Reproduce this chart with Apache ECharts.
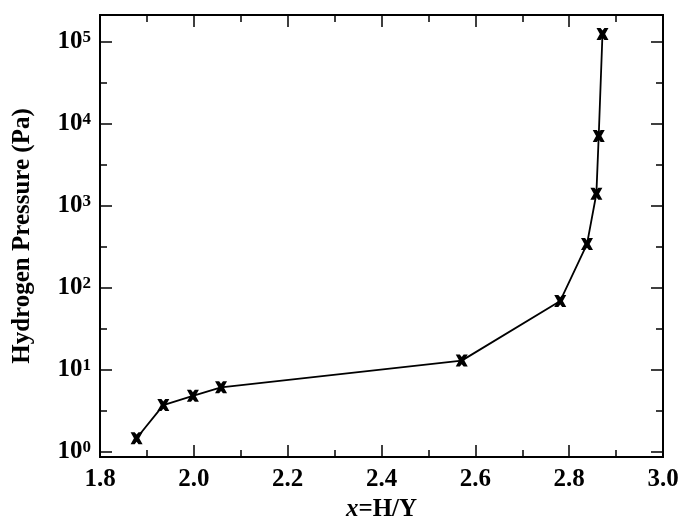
<!DOCTYPE html>
<html>
<head>
<meta charset="utf-8">
<script src="https://cdn.jsdelivr.net/npm/echarts@6/dist/echarts.min.js"></script>
<style>
html,body{margin:0;padding:0;background:#fff;}
#c{width:682px;height:527px;}
</style>
</head>
<body>
<div id="c"></div>
<script>
// Data
const hyRatio = [1.878, 1.935, 1.998, 2.058, 2.571, 2.781, 2.838, 2.858, 2.863, 2.871];
const pressurePa = [1.46, 3.7, 4.8, 6.1, 12.9, 69, 340, 1400, 7100, 124000];
const yMajorExp = [0, 1, 2, 3, 4, 5];
const yMinorExp = [0.5, 1.5, 2.5, 3.5, 4.5];
const xTickLabels = ['1.8', '2.0', '2.2', '2.4', '2.6', '2.8', '3.0'];

const FONT = 'Liberation Serif';
const yMin = -0.065, yMax = 5.326;

const chart = echarts.init(document.getElementById('c'), null, {renderer: 'canvas'});
const seriesData = hyRatio.map((x, i) => [x, Math.log10(pressurePa[i])]);

const lineStyle = {color: '#000', width: 2};
const tickStyle = {color: '#000', width: 1.5};

function xAx(pos, showLabel) {
  return {
    type: 'value', position: pos, min: 1.8, max: 3.0, interval: 0.2,
    axisLine: {show: true, onZero: false, lineStyle: lineStyle},
    axisTick: {show: true, inside: true, length: 12, lineStyle: tickStyle},
    minorTick: {show: true, splitNumber: 2, length: 7, lineStyle: tickStyle},
    splitLine: {show: false}, minorSplitLine: {show: false},
    axisLabel: {
      show: showLabel, margin: 10, color: '#000',
      fontFamily: FONT, fontWeight: 'bold', fontSize: 25,
      formatter: v => {
        const idx = Math.round((v - 1.8) / 0.2);
        return xTickLabels[idx] !== undefined ? xTickLabels[idx] : '';
      }
    },
    name: showLabel ? '{i|x}{n|=H/Y}' : '',
    nameLocation: 'middle', nameGap: 31,
    nameTextStyle: {
      color: '#000',
      rich: {
        i: {fontFamily: FONT, fontStyle: 'italic', fontWeight: 'bold', fontSize: 25, color: '#000'},
        n: {fontFamily: FONT, fontWeight: 'bold', fontSize: 25, color: '#000'}
      }
    }
  };
}

function yAx(pos, values, len, showLabel, withName) {
  return {
    type: 'value', position: pos, min: yMin, max: yMax,
    axisLine: {show: true, onZero: false, lineStyle: lineStyle},
    axisTick: {show: true, inside: true, length: len, lineStyle: tickStyle, customValues: values},
    splitLine: {show: false},
    axisLabel: {
      show: showLabel, customValues: values, margin: 9, color: '#000',
      formatter: v => '{b|10}{s|' + Math.round(v) + '}',
      rich: {
        b: {fontFamily: FONT, fontWeight: 'bold', fontSize: 25, lineHeight: 25, color: '#000', verticalAlign: 'bottom'},
        s: {fontFamily: FONT, fontWeight: 'bold', fontSize: 17, lineHeight: 17, color: '#000', verticalAlign: 'top', padding: [0, 0, 10, 0]}
      }
    },
    name: withName ? 'Hydrogen Pressure (Pa)' : '',
    nameLocation: 'middle', nameGap: 65,
    nameTextStyle: {color: '#000', fontFamily: FONT, fontWeight: 'bold', fontSize: 25}
  };
}

chart.setOption({
  animation: false,
  backgroundColor: '#fff',
  grid: {left: 100, right: 19, top: 15, bottom: 70, containLabel: false},
  xAxis: [xAx('bottom', true), xAx('top', false)],
  yAxis: [
    yAx('left', yMajorExp, 12, true, true),
    yAx('left', yMinorExp, 7, false, false),
    yAx('right', yMajorExp, 12, false, false),
    yAx('right', yMinorExp, 7, false, false)
  ],
  series: [{
    type: 'line',
    xAxisIndex: 0, yAxisIndex: 0,
    data: seriesData,
    lineStyle: {color: '#000', width: 1.8},
    itemStyle: {color: '#000'},
    symbol: 'path://M0,0 L3.4,0 L5,2 L6.6,0 L10,0 L7.2,5 L10,10 L6.6,10 L5,8 L3.4,10 L0,10 L2.8,5 Z',
    symbolSize: 12,
    showSymbol: true
  }]
});
</script>
</body>
</html>
